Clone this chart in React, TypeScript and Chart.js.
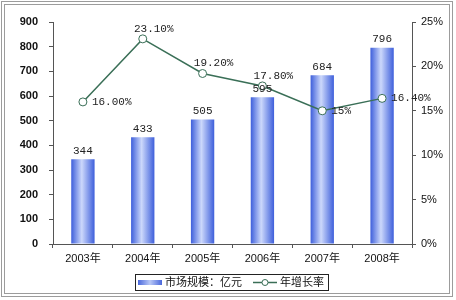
import React, { useEffect, useRef } from "react";
import { Chart, registerables } from "chart.js";

Chart.register(...registerables);

const categories = ["2003年", "2004年", "2005年", "2006年", "2007年", "2008年"];
const marketSize = [344, 433, 505, 595, 684, 796];
const growthRate = [16.0, 23.1, 19.2, 17.8, 15.0, 16.4];
const growthText = ["16.00%", "23.10%", "19.20%", "17.80%", "15%", "16.40%"];
const growthLabelPlace = ["right", "top", "top", "top", "right", "right"];
const barLabel = "市场规模：亿元";
const lineLabel = "年增长率";

const LINE_COLOR = "#3a6f57";
const AXIS_COLOR = "#555";
const MONO = "'Liberation Mono', 'Noto Sans CJK SC', monospace";
const SANS = "'Liberation Sans', 'Noto Sans CJK SC', sans-serif";

const framePlugin = {
  id: "frame",
  beforeDraw(chart: any) {
    const ctx = chart.ctx;
    ctx.save();
    ctx.fillStyle = "#fff";
    ctx.fillRect(0, 0, chart.width, chart.height);
    ctx.strokeStyle = "#9c9c9c";
    ctx.lineWidth = 1;
    ctx.strokeRect(1.5, 1.5, 451, 295);
    ctx.strokeRect(4.5, 4.5, 445, 289);
    ctx.restore();
  },
};

const labelsPlugin = {
  id: "valueLabels",
  afterDatasetsDraw(chart: any) {
    const ctx = chart.ctx;
    ctx.save();
    ctx.fillStyle = "#222";
    ctx.font = `11px ${MONO}`;
    const barMeta = chart.getDatasetMeta(0);
    barMeta.data.forEach((el: any, i: number) => {
      ctx.textAlign = "center";
      ctx.textBaseline = "bottom";
      ctx.fillText(String(marketSize[i]), el.x, el.y - 3);
    });
    const lineMeta = chart.getDatasetMeta(1);
    lineMeta.data.forEach((el: any, i: number) => {
      ctx.textBaseline = "middle";
      if (growthLabelPlace[i] === "right") {
        ctx.textAlign = "left";
        ctx.fillText(growthText[i], el.x + 9, el.y);
      } else {
        ctx.textAlign = "center";
        ctx.fillText(growthText[i], el.x + 11, el.y - 10);
      }
    });
    ctx.restore();
  },
};

const legendPlugin = {
  id: "customLegend",
  afterDraw(chart: any) {
    const ctx = chart.ctx;
    ctx.save();
    ctx.strokeStyle = "#222";
    ctx.lineWidth = 1;
    ctx.strokeRect(135.5, 274.5, 193, 16);
    const g = ctx.createLinearGradient(138, 0, 162, 0);
    g.addColorStop(0, "#4a68dc");
    g.addColorStop(0.5, "#b9c8f6");
    g.addColorStop(1, "#4a68dc");
    ctx.fillStyle = g;
    ctx.fillRect(138, 280, 24, 5);
    ctx.fillStyle = "#111";
    ctx.font = `11px ${SANS}`;
    ctx.textAlign = "left";
    ctx.textBaseline = "middle";
    ctx.fillText(barLabel, 165, 283);
    ctx.strokeStyle = LINE_COLOR;
    ctx.lineWidth = 1.5;
    ctx.beginPath();
    ctx.moveTo(253, 282.5);
    ctx.lineTo(277, 282.5);
    ctx.stroke();
    ctx.beginPath();
    ctx.arc(265, 282.5, 3, 0, Math.PI * 2);
    ctx.fillStyle = "#fff";
    ctx.fill();
    ctx.lineWidth = 1;
    ctx.stroke();
    ctx.fillStyle = "#111";
    ctx.fillText(lineLabel, 280, 283);
    ctx.restore();
  },
};

export default function App() {
  const ref = useRef<HTMLCanvasElement | null>(null);
  useEffect(() => {
    document.body.style.margin = "0";
    const canvas = ref.current!;
    const chart = new Chart(canvas, {
      data: {
        labels: categories,
        datasets: [
          {
            type: "bar",
            label: barLabel,
            data: marketSize,
            yAxisID: "y",
            order: 1,
            categoryPercentage: 1,
            barPercentage: 0.39,
            backgroundColor: (c: any) => {
              const chart = c.chart;
              if (!chart.chartArea || c.dataIndex === undefined) return "#6f8be6";
              const xs = chart.scales.x;
              const cx = xs.getPixelForValue(c.dataIndex);
              const w = (xs.width / categories.length) * 0.39;
              const g = chart.ctx.createLinearGradient(cx - w / 2, 0, cx + w / 2, 0);
              g.addColorStop(0, "#3e5fdb");
              g.addColorStop(0.45, "#ccd8fb");
              g.addColorStop(1, "#3e5fdb");
              return g;
            },
            borderWidth: 0,
          } as any,
          {
            type: "line",
            label: lineLabel,
            data: growthRate,
            yAxisID: "y1",
            order: 0,
            borderColor: LINE_COLOR,
            borderWidth: 1.5,
            pointRadius: 4,
            pointBackgroundColor: "#fff",
            pointBorderColor: LINE_COLOR,
            pointBorderWidth: 1,
            tension: 0,
          } as any,
        ],
      },
      options: {
        animation: false,
        responsive: false,
        layout: { padding: { top: 22, left: 0, right: 0, bottom: 0 } },
        plugins: { legend: { display: false }, tooltip: { enabled: false } },
        scales: {
          x: {
            offset: true,
            grid: { offset: true, drawOnChartArea: false, tickLength: 4, color: AXIS_COLOR },
            border: { color: AXIS_COLOR },
            ticks: { color: "#111", font: { size: 11, family: SANS }, padding: 4 },
            afterFit: (s: any) => { s.height = 56; },
          },
          y: {
            position: "left",
            min: 0,
            max: 900,
            ticks: { stepSize: 100, color: "#111", font: { size: 11, weight: "bold", family: SANS }, padding: 11 },
            grid: { drawOnChartArea: false, tickLength: 4, color: AXIS_COLOR },
            border: { color: AXIS_COLOR },
            afterFit: (s: any) => { s.width = 53; },
          },
          y1: {
            position: "right",
            min: 0,
            max: 25,
            ticks: { stepSize: 5, color: "#111", font: { size: 11, family: SANS }, padding: 5, callback: (v: any) => v + "%" },
            grid: { drawOnChartArea: false, tickLength: 4, color: AXIS_COLOR },
            border: { color: AXIS_COLOR },
            afterFit: (s: any) => { s.width = 44; },
          },
        },
      } as any,
      plugins: [framePlugin, labelsPlugin, legendPlugin],
    });
    return () => chart.destroy();
  }, []);
  return <canvas ref={ref} width={456} height={300} style={{ display: "block", width: 456, height: 300 }} />;
}
